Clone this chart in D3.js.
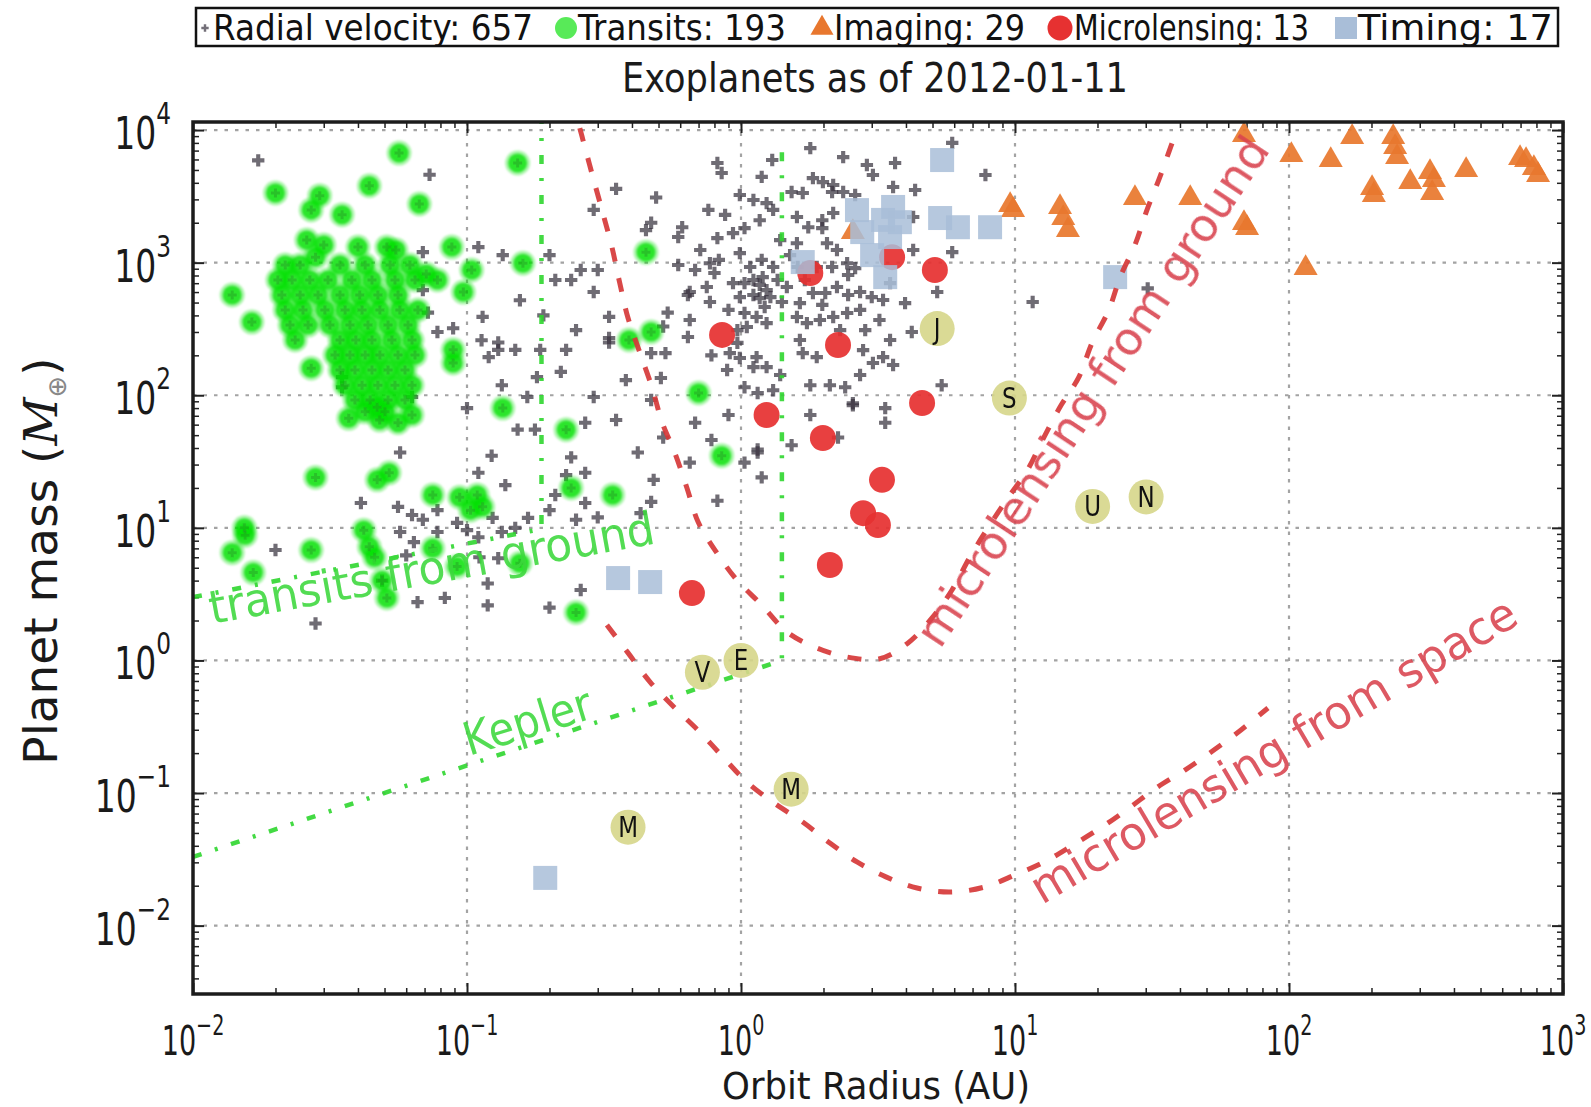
<!DOCTYPE html>
<html>
<head>
<meta charset="utf-8">
<script src="https://cdn.jsdelivr.net/npm/d3@7"></script>
<style>
  body { margin: 0; background: #fff; }
  text { font-family: "DejaVu Sans", sans-serif; }
</style>
</head>
<body>
<svg id="chart" width="1591" height="1107"></svg>
<script>
// ---- Planets: [orbit radius (AU), mass (Earth masses)] ----
const radialVelocity = [
  [0.0173,5900],[0.073,4600],[0.35,3600],[0.49,3100],[0.29,2500],[0.47,2000],[0.45,1760],[0.61,1850],[0.59,1560],[0.069,1200],
  [0.11,1310],[0.135,1140],[0.26,880],[0.30,880],[0.21,740],[0.24,740],[0.59,960],[0.29,600],[0.069,620],[0.64,570],
  [0.072,420],[0.33,390],[0.54,420],[0.52,330],[0.078,300],[0.089,320],[0.114,390],[0.113,260],[0.13,250],[0.13,220],
  [0.12,194],[0.15,220],[0.185,220],[0.23,220],[0.33,250],[0.53,208],[0.47,208],[0.64,275],[0.22,150],[0.18,137],
  [0.134,119],[0.166,97],[0.29,97],[0.51,135],[0.10,80],[0.035,137],[0.035,115],[0.063,97],[0.153,55],[0.177,55],
  [0.27,62],[0.35,65],[0.057,37],[0.123,35],[0.42,37],[0.52,48],[0.24,34],[0.48,23],[0.11,26],[0.138,21],
  [0.27,26],[0.23,25],[0.21,17.7],[0.27,15.4],[0.20,13.6],[0.167,11.9],[0.25,11.5],[0.30,12],[0.47,15.7],[0.43,12.9],
  [0.041,15.4],[0.056,14.4],[0.063,12.5],[0.069,11.5],[0.078,13.6],[0.092,10.9],[0.124,11.9],[0.10,9.6],[0.11,8.5],[0.134,9.3],
  [0.15,10],[0.057,9.3],[0.064,7.8],[0.078,9.3],[0.060,6.2],[0.111,6.0],[0.13,5.9],[0.020,6.8],[0.049,4.0],[0.119,3.8],
  [0.066,2.75],[0.083,2.96],[0.119,2.6],[0.20,2.5],[0.26,3.4],[0.028,1.9],[0.68,62],[0.65,31],[0.90,71],[0.78,46],
  [1.15,37],[1.03,31],[1.19,24],[0.82,16],[1.53,42],[1.79,71],[2.56,84],[3.36,80],[3.36,62],[2.26,48],
  [5.9,8000],[1.79,7300],[2.36,6250],[3.65,5640],[0.82,5640],[0.85,4740],[1.19,4430],[1.30,5940],[2.88,5450],[3.03,4580],
  [7.8,4580],[3.59,3720],[4.32,3530],[1.83,4340],[1.99,4050],[2.17,3850],[0.99,3240],[1.11,2970],[1.24,2810],[1.53,3410],
  [1.68,3350],[2.15,3410],[2.36,3410],[2.61,3240],[0.76,2500],[0.875,2290],[0.82,1530],[0.935,1670],[1.03,1820],[1.17,2090],
  [1.31,2500],[1.60,2210],[1.76,1850],[1.98,2090],[1.98,1820],[2.17,2370],[4.25,2210],[5.9,1200],[4.25,1245],[11.6,505],
  [0.68,880],[0.77,990],[0.80,835],[0.99,1180],[1.08,927],[1.19,1050],[1.11,740],[1.20,778],[1.24,620],[1.31,927],
  [1.61,927],[1.89,927],[2.15,927],[2.44,990],[2.46,807],[2.61,910],[2.24,1245],[2.06,1400],[1.60,1400],[0.65,600],
  [0.75,655],[0.77,505],[0.935,700],[0.90,440],[0.99,550],[1.11,570],[1.17,540],[1.28,550],[1.47,655],[1.64,495],
  [1.83,590],[2.03,590],[2.24,655],[2.46,570],[2.72,600],[3.0,550],[3.3,523],[3.5,700],[3.97,495],[5.2,600],
  [1.03,417],[1.05,327],[1.14,389],[1.24,350],[1.60,389],[1.74,350],[1.94,369],[2.17,389],[2.44,417],[2.72,440],
  [3.2,369],[0.97,310],[0.97,248],[0.91,208],[0.99,191],[1.14,194],[1.24,163],[1.11,163],[0.89,155],[1.64,261],
  [1.68,208],[1.89,194],[2.79,219],[3.03,175],[3.3,194],[3.59,169],[4.2,300],[0.33,270],[1.03,115],[1.15,104],
  [1.31,109],[1.79,119],[2.11,119],[2.4,115],[2.56,87],[1.15,39],[5.4,119],[30.5,640],
  [1.17,680],[1.36,740],[1.03,700],[1.22,463],[1.41,505],[1.51,1140],[1.39,1480],[0.71,1245],[0.83,1050],[1.71,740],
  [1.98,480],[2.3,310],[2.84,310],[3.5,261],[0.65,369],[0.78,200],[1.39,142],[2.72,142],[0.47,92],[0.38,130],
  [0.25,310],[0.19,400],[0.156,520],[0.20,1140]
];

const transits = [
  [0.0565,6700],[0.044,3800],[0.020,3350],[0.029,3200],[0.027,2500],[0.035,2300],[0.067,2770],[0.153,5640],[0.026,1480],[0.030,1360],
  [0.028,1100],[0.040,1310],[0.051,1310],[0.055,1245],[0.088,1310],[0.16,990],[0.0139,570],[0.0164,356],[0.45,1200],[0.39,261],
  [0.47,300],[0.078,740],[0.097,600],[0.104,880],[0.089,220],[0.089,175],[0.027,160],[0.037,67],[0.048,65],[0.056,62],
  [0.063,71],[0.135,80],[0.23,55],[0.047,81],[0.028,24],[0.047,23],[0.052,26],[0.075,17.7],[0.094,17],[0.109,17.7],
  [0.114,14.4],[0.103,13.6],[0.24,20],[0.34,17.7],[0.0155,8.8],[0.0139,6.5],[0.0166,4.6],[0.027,6.8],[0.042,9.6],[0.044,7.2],
  [0.046,6.0],[0.049,4.0],[0.051,2.96],[0.075,7.0],[0.092,5.1],[0.156,5.4],[0.25,2.3],[0.85,35],[0.70,104],
  [0.0154,10],[0.071,820],
  [0.0217,960],[0.0246,960],[0.0344,960],[0.0425,960],[0.0524,960],[0.0619,960],
  [0.0204,740],[0.0230,740],[0.0267,740],[0.0311,740],[0.0380,740],[0.0450,740],[0.0546,740],[0.0646,740],
  [0.0211,570],[0.0246,570],[0.0286,570],[0.0344,570],[0.0406,570],[0.0473,570],[0.0560,570],
  [0.0217,440],[0.0252,440],[0.0303,440],[0.0359,440],[0.0414,440],[0.0481,440],[0.0569,440],[0.0662,440],
  [0.0226,338],[0.0263,338],[0.0316,338],[0.0374,338],[0.0435,338],[0.0515,338],[0.0609,338],
  [0.0236,261],[0.0344,261],[0.0393,261],[0.0450,261],[0.0532,261],[0.063,261],
  [0.0330,201],[0.0374,201],[0.0425,201],[0.0481,201],[0.0560,201],[0.0646,201],
  [0.0344,155],[0.0390,155],[0.0450,155],[0.0515,155],[0.0594,155],
  [0.0359,119],[0.0414,119],[0.0473,119],[0.0546,119],[0.063,119],
  [0.0390,92],[0.0443,92],[0.0515,92],[0.0594,92],
  [0.0425,75],[0.0502,75]
];

const imaging = [
  [9.84,2490],[14.6,2620],[15.6,1760],[27.4,3070],[43.6,3070],[68.5,9170],[68.5,1990],[102,6480],[142,5940],[170,8850],
  [240,8850],[248,6250],[201,3650],[277,4050],[327,4820],[333,3350],[443,4990],[733,5940],[811,4580],[115,910],
  [2.56,1700],[15.0,2170],[338,4200],[697,6150],[244,7450],[204,3240],[70.3,1820],[783,5170],[9.60,2720]
];

const microlensing = [
  [3.56,1100],[5.10,880],[1.79,835],[0.853,285],[2.26,239],[4.58,87.4],[1.24,71.0],
  [1.99,47.6],[3.27,23.0],[2.79,12.9],[3.16,10.5],[2.11,5.25],[0.662,3.22]
];

const timing = [
  [5.42,5940],[5.33,2170],[6.19,1850],[8.11,1850],[2.65,2490],[3.59,2630],[3.30,2100],[3.50,1560],[3.36,778],
  [1.68,1010],[23.2,778],[0.356,4.18],[0.466,3.90],[0.193,0.0229],[3.01,1140],[2.77,1700],[3.80,2020]
];

// Solar-system planets for reference
const solarNames  = ["M", "V", "E", "M", "J", "S", "U", "N"];
const solarRadius = [0.387, 0.723, 1.0, 1.524, 5.20, 9.54, 19.2, 30.1];
const solarMass   = [0.0553, 0.815, 1.0, 0.107, 318, 95.2, 14.5, 17.1];

// Detection-limit curves: [orbit radius (AU), mass (Earth masses)]
const groundMicrolensing = [
  [0.258,10350],[0.265,8410],[0.288,4430],[0.313,2370],[0.338,1310],[0.361,702],[0.387,382],[0.428,208],[0.473,115],[0.515,62.8],
  [0.574,36.6],[0.635,20.0],[0.697,11.1],[0.817,6.46],[0.966,4.04],[1.19,2.62],[1.47,1.64],[1.86,1.26],[2.44,1.06],[3.21,1.03],
  [4.06,1.35],[4.98,2.09],[5.89,3.40],[6.85,6.03],[7.96,9.95],[9.42,16.8],[11.1,27.3],[12.6,45.9],[14.6,81.5],[17.1,137],
  [19.1,248],[22.0,440],[24.2,778],[27.4,1360],[30.3,2490],[33.8,4430],[37.8,8410],[39.4,10350]
];
const spaceMicrolensing = [
  [0.324,1.85],[0.387,1.14],[0.466,0.687],[0.574,0.438],[0.708,0.288],[0.859,0.187],[1.05,0.121],[1.32,0.0841],[1.68,0.0604],
  [2.11,0.0420],[2.65,0.0302],[3.38,0.0233],[4.39,0.0192],[5.79,0.0179],[7.71,0.0195],[10.0,0.0241],[12.8,0.0302],[16.3,0.0406],
  [20.8,0.0555],[26.1,0.0771],[32.7,0.109],[41.7,0.149],[53.2,0.211],[66.8,0.299],[83.8,0.438]
];
const groundTransitLimit = [[0.01,3.0],[0.187,9.8],[0.187,11500]];
const keplerLimit = [[0.01,0.033],[1.41,1.0],[1.41,7400]];

const legendLabels = ["Radial velocity: 657", "Transits: 193", "Imaging: 29", "Microlensing: 13", "Timing: 17"];
const xTickExps = [-2, -1, 0, 1, 2, 3];
const yTickExps = [-2, -1, 0, 1, 2, 3, 4];

// ---- Layout ----
const plot = { left: 193, right: 1563, top: 122, bottom: 994 };
const x = d3.scaleLog().domain([0.01, 1000]).range([plot.left, plot.right]);
const y = d3.scaleLog().domain([0.00305, 11500]).range([plot.bottom, plot.top]);

const colors = {
  rv: "#38323f", transit: "#00e000", transitCore: "#2b8f2b",
  imaging: "#e8772e", micro: "#e63131", timing: "#a9bed8",
  solar: "#d6d68a", curve: "#d63838", curveText: "#d9434e", kepler: "#2fd62f"
};

const svg = d3.select("#chart");
const defs = svg.append("defs");
defs.append("clipPath").attr("id", "plotClip").append("rect")
  .attr("x", plot.left).attr("y", plot.top)
  .attr("width", plot.right - plot.left).attr("height", plot.bottom - plot.top);
defs.append("filter").attr("id", "soft").attr("x", "-5%").attr("y", "-5%").attr("width", "110%").attr("height", "110%")
  .append("feGaussianBlur").attr("stdDeviation", 1.3);
defs.append("filter").attr("id", "softer").attr("x", "-5%").attr("y", "-5%").attr("width", "110%").attr("height", "110%")
  .append("feGaussianBlur").attr("stdDeviation", 0.7);
defs.append("filter").attr("id", "faint").attr("x", "-5%").attr("y", "-5%").attr("width", "110%").attr("height", "110%")
  .append("feGaussianBlur").attr("stdDeviation", 0.45);

// ---- Grid ----
const grid = svg.append("g").attr("stroke", "#a3a3a3").attr("stroke-width", 2.2).attr("stroke-dasharray", "3.5,7");
grid.selectAll("line.gx").data(xTickExps.slice(1, -1)).join("line")
  .attr("x1", e => x(Math.pow(10, e))).attr("x2", e => x(Math.pow(10, e)))
  .attr("y1", plot.top).attr("y2", plot.bottom);
grid.selectAll("line.gy").data(yTickExps).join("line")
  .attr("y1", e => y(Math.pow(10, e))).attr("y2", e => y(Math.pow(10, e)))
  .attr("x1", plot.left).attr("x2", plot.right);

// ---- Ticks on all four sides, pointing inward ----
function minorTicks(scale) {
  const [lo, hi] = scale.domain();
  const v = [];
  for (let e = Math.floor(Math.log10(lo)); e <= Math.ceil(Math.log10(hi)); e++)
    for (let k = 2; k <= 9; k++) { const t = k * Math.pow(10, e); if (t > lo && t < hi) v.push(t); }
  return v;
}
const xMajor = xTickExps.map(e => Math.pow(10, e));
const yMajor = yTickExps.map(e => Math.pow(10, e));
function tickLayer(axis, transform, values, size, width) {
  svg.append("g").attr("transform", transform)
    .call(axis.tickValues(values).tickSize(size).tickFormat(""))
    .call(g => g.select(".domain").remove())
    .call(g => g.selectAll("line").attr("stroke", "#222").attr("stroke-width", width));
}
[[minorTicks(x), -6, 1.5], [xMajor, -11, 2]].forEach(([v, s, w]) => {
  tickLayer(d3.axisBottom(x), `translate(0,${plot.bottom})`, v, s, w);
  tickLayer(d3.axisTop(x), `translate(0,${plot.top})`, v, s, w);
});
[[minorTicks(y), -6, 1.5], [yMajor, -11, 2]].forEach(([v, s, w]) => {
  tickLayer(d3.axisLeft(y), `translate(${plot.left},0)`, v, s, w);
  tickLayer(d3.axisRight(y), `translate(${plot.right},0)`, v, s, w);
});

// ---- Plotted data ----
const area = svg.append("g").attr("clip-path", "url(#plotClip)");
const sym = (type, size) => d3.symbol().type(type).size(size)();

// radial velocity: fat plus marks
const rv = area.append("g").attr("filter", "url(#faint)").selectAll("g").data(radialVelocity).join("g")
  .attr("transform", d => `translate(${x(d[0])},${y(d[1])})`)
  .attr("opacity", 0.72);
rv.append("path").attr("d", sym(d3.symbolCross, 85)).attr("fill", colors.rv);

// transits: soft green discs with a darker centre mark
const tr = area.append("g").attr("filter", "url(#soft)");
tr.selectAll("circle.halo").data(transits).join("circle")
  .attr("cx", d => x(d[0])).attr("cy", d => y(d[1])).attr("r", 12.5)
  .attr("fill", colors.transit).attr("opacity", 0.33);
tr.selectAll("circle.core").data(transits).join("circle")
  .attr("cx", d => x(d[0])).attr("cy", d => y(d[1])).attr("r", 9.5)
  .attr("fill", colors.transit).attr("opacity", 0.75);
area.append("g").attr("filter", "url(#faint)").selectAll("path").data(transits).join("path")
  .attr("d", sym(d3.symbolCross, 45))
  .attr("transform", d => `translate(${x(d[0])},${y(d[1])})`)
  .attr("fill", colors.transitCore).attr("opacity", 0.4);

// imaging
area.append("g").attr("filter", "url(#softer)").selectAll("path").data(imaging).join("path")
  .attr("d", sym(d3.symbolTriangle, 250))
  .attr("transform", d => `translate(${x(d[0])},${y(d[1])})`)
  .attr("fill", colors.imaging).attr("opacity", 0.92);

// microlensing
area.append("g").attr("filter", "url(#softer)").selectAll("circle").data(microlensing).join("circle")
  .attr("cx", d => x(d[0])).attr("cy", d => y(d[1])).attr("r", 13)
  .attr("fill", colors.micro).attr("opacity", 0.92);

// timing
area.append("g").attr("filter", "url(#softer)").selectAll("rect").data(timing).join("rect")
  .attr("x", d => x(d[0]) - 12).attr("y", d => y(d[1]) - 12)
  .attr("width", 24).attr("height", 24)
  .attr("fill", colors.timing).attr("opacity", 0.85);

// ---- Detection limits ----
const line = d3.line().x(d => x(d[0])).y(d => y(d[1]));
const smooth = d3.line().x(d => x(d[0])).y(d => y(d[1])).curve(d3.curveCatmullRom);
[groundMicrolensing, spaceMicrolensing].forEach(c => {
  area.append("path").attr("d", smooth(c)).attr("fill", "none")
    .attr("stroke", colors.curve).attr("stroke-width", 5)
    .attr("stroke-dasharray", "14,17").attr("opacity", 0.92);
});
[groundTransitLimit, keplerLimit].forEach(c => {
  area.append("path").attr("d", line(c)).attr("fill", "none")
    .attr("stroke", colors.kepler).attr("stroke-width", 4.5)
    .attr("stroke-dasharray", "9,14,3,14").attr("opacity", 0.9);
});

// ---- Solar system ----
const solar = area.append("g").selectAll("g").data(solarNames).join("g")
  .attr("transform", (d, i) => `translate(${x(solarRadius[i])},${y(solarMass[i])})`);
solar.append("circle").attr("r", 17.5).attr("fill", colors.solar).attr("opacity", 0.9).attr("filter", "url(#softer)");
solar.append("text").attr("text-anchor", "middle").attr("y", 10).attr("font-size", 28)
  .attr("transform", "scale(0.82,1)").attr("fill", "#111").text(d => d);

// ---- Annotations ----
function note(txt, px, py, angle, len, fill) {
  svg.append("text")
    .attr("transform", `translate(${px},${py}) rotate(${angle})`)
    .attr("font-size", 46).attr("fill", fill).attr("opacity", 0.88)
    .attr("textLength", len).attr("lengthAdjust", "spacingAndGlyphs")
    .text(txt);
}
note("transits from ground", 212, 624, -10.3, 452, "#3cd83c");
note("Kepler", 469, 756, -17, 132, "#3cd83c");
note("microlensing from ground", 940, 650, -56.5, 600, colors.curveText);
note("microlensing from space", 1042, 905, -30.5, 556, colors.curveText);

// ---- Frame ----
svg.append("rect").attr("x", plot.left).attr("y", plot.top)
  .attr("width", plot.right - plot.left).attr("height", plot.bottom - plot.top)
  .attr("fill", "none").attr("stroke", "#1c1c1c").attr("stroke-width", 3.5);

// ---- Tick labels ----
const yLab = svg.append("g").selectAll("g").data(yTickExps).join("g")
  .attr("transform", e => `translate(171,${y(Math.pow(10, e)) + 19}) scale(0.75,1)`);
const yText = yLab.append("text").attr("text-anchor", "end").attr("font-size", 44).attr("fill", "#1a1a1a");
yText.append("tspan").text("10");
yText.append("tspan").attr("font-size", 31).attr("dy", -25).text(e => e < 0 ? "\u2212" + (-e) : e);

const xLab = svg.append("g").selectAll("g").data(xTickExps).join("g")
  .attr("transform", e => `translate(${x(Math.pow(10, e))},1055) scale(0.66,1)`);
const xText = xLab.append("text").attr("text-anchor", "middle").attr("font-size", 41).attr("fill", "#1a1a1a");
xText.append("tspan").text("10");
xText.append("tspan").attr("font-size", 29).attr("dy", -20).text(e => e < 0 ? "\u2212" + (-e) : e);

// ---- Axis titles ----
svg.append("text").attr("x", 876).attr("y", 1099).attr("text-anchor", "middle")
  .attr("font-size", 37).attr("fill", "#1a1a1a")
  .attr("textLength", 308).attr("lengthAdjust", "spacingAndGlyphs")
  .text("Orbit Radius (AU)");

const yTitle = svg.append("text").attr("transform", "translate(57,561) rotate(-90)")
  .attr("text-anchor", "middle").attr("font-size", 47).attr("fill", "#1a1a1a");
yTitle.append("tspan").text("Planet mass (");
yTitle.append("tspan").attr("font-family", "DejaVu Serif").attr("font-style", "italic").text("M");
yTitle.append("tspan").attr("font-size", 26).attr("dy", 9).attr("fill", "#888").text("\u2295");
yTitle.append("tspan").attr("dy", -9).text(")");

// ---- Title ----
svg.append("text").attr("x", 875).attr("y", 92).attr("text-anchor", "middle")
  .attr("font-size", 40).attr("fill", "#1a1a1a")
  .attr("textLength", 506).attr("lengthAdjust", "spacingAndGlyphs")
  .text("Exoplanets as of 2012-01-11");

// ---- Legend ----
const legend = svg.append("g");
legend.append("rect").attr("x", 196).attr("y", 8).attr("width", 1362).attr("height", 38)
  .attr("fill", "#fff").attr("stroke", "#111").attr("stroke-width", 2.5);
const legendMarkX = [205, 566, 822, 1060, 1346];
const legendTextX = [213, 578, 834, 1074, 1358];
const legendTextW = [320, 208, 191, 235, 195];
const legendMarks = [
  g => g.append("path").attr("d", sym(d3.symbolCross, 30)).attr("fill", colors.rv).attr("opacity", 0.7),
  g => g.append("circle").attr("r", 11).attr("fill", colors.transit).attr("opacity", 0.65).attr("filter", "url(#softer)"),
  g => g.append("path").attr("d", sym(d3.symbolTriangle, 230)).attr("fill", colors.imaging),
  g => g.append("circle").attr("r", 12.5).attr("fill", colors.micro),
  g => g.append("rect").attr("x", -11).attr("y", -11).attr("width", 22).attr("height", 22).attr("fill", colors.timing)
];
legendLabels.forEach((lbl, i) => {
  const g = legend.append("g").attr("transform", `translate(${legendMarkX[i]},28)`);
  legendMarks[i](g);
  legend.append("text").attr("x", legendTextX[i]).attr("y", 40)
    .attr("font-size", 36).attr("fill", "#111")
    .attr("textLength", legendTextW[i]).attr("lengthAdjust", "spacingAndGlyphs")
    .text(lbl);
});
</script>
</body>
</html>
